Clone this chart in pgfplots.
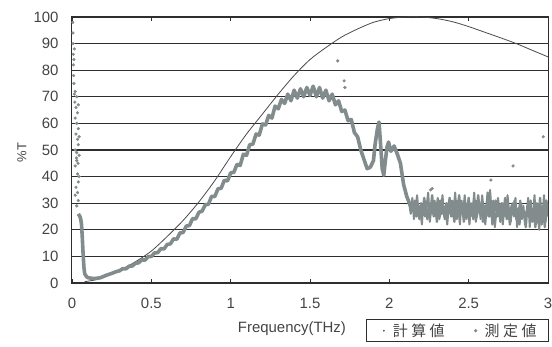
\documentclass[border=0pt]{standalone}
\usepackage{fontspec}
\setmainfont{Liberation Sans}
\newfontfamily\cjk{Noto Sans CJK JP}
\usepackage{pgfplots}
\pgfplotsset{compat=1.18}
\definecolor{meas}{HTML}{828C8C}
\definecolor{calc}{HTML}{4A4A4A}
\definecolor{txt}{HTML}{444444}
\definecolor{gridc}{HTML}{2E2E2E}
\begin{document}
\begin{tikzpicture}
\useasboundingbox (-72bp,-64bp) rectangle (480bp,283bp);
\begin{axis}[
  at={(0,0)}, anchor=south west,
  scale only axis, width=476bp, height=266bp,
  xmin=0, xmax=3, ymin=0, ymax=100,
  xtick={0,0.5,1,1.5,2,2.5,3},
  xticklabels={0,0.5,1,1.5,2,2.5,3},
  ytick={0,10,20,30,40,50,60,70,80,90,100},
  ymajorgrids,
  major grid style={gridc, line width=1.1bp},
  axis line style={gridc, line width=1bp},
  tick align=inside,
  major tick length=4bp,
  xtick style={gridc, line width=0.7bp},
  ytick style={draw=none},
  /pgf/number format/assume math mode=true,
  tick label style={font=\fontsize{15}{17}\selectfont, text=txt},
  xticklabel shift=12bp,
  yticklabel style={xshift=-10bp},
  xlabel={Frequency(THz)},
  xlabel style={at={(axis description cs:0.462,-0.170)}, anchor=center, font=\fontsize{15}{17}\selectfont, text=txt},
  ylabel={\%T},
  ylabel style={at={(axis description cs:-0.105,0.49)}, anchor=center, font=\fontsize{13}{15}\selectfont, text=txt},
  legend style={at={(axis description cs:1.002,-0.136)}, anchor=north east,
    draw=gridc, line width=0.9bp, font=\cjk\fontsize{15}{16}\selectfont, text=txt,
    inner xsep=10bp, inner ysep=2bp,
    /tikz/every even column/.append style={column sep=22bp}},
  legend columns=2,
  clip=true,
]
% calculated
\addplot[calc, line width=0.8bp, smooth,
  legend image code/.code={\path[draw=none,fill=none] (-6bp,0) -- (8bp,0);\fill[calc,draw=none] (1bp,0) circle (1bp);}]
coordinates {
(0.08,0.5)(0.15,1.2)(0.2,2.2)(0.3,4.8)(0.4,8)(0.5,12)(0.6,17.5)(0.7,23.5)(0.8,30.5)
(0.9,38.5)(1.0,47.5)(1.1,56)(1.2,63.5)(1.3,71)(1.4,78)(1.5,84)(1.6,88.5)
(1.7,92.5)(1.8,95.5)(1.9,98)(2.0,99.4)(2.1,100)(2.2,100)(2.3,99.4)(2.4,98.2)
(2.5,96.4)(2.6,94.3)(2.7,92.2)(2.8,90)(2.9,87.5)(3.0,85)
};
\addlegendentry{計\kern3.5bp 算\kern3.5bp 値}
% measured (dense band)
\addplot[meas, line width=3.6bp, line join=round,
  legend image code/.code={\path[draw=none,fill=none] (-6bp,0) -- (8bp,0);\fill[meas,draw=none] (1bp,0) circle (1.8bp);}]
coordinates {
(0.04,26)(0.05,25)(0.055,24)(0.06,22)(0.065,17)(0.07,11)(0.075,6)(0.08,3.5)
(0.09,2.5)(0.1,2)(0.12,1.8)(0.14,1.7)(0.16,1.8)(0.18,2)(0.2,2.5)(0.22,3)
(0.25,3.6)(0.28,4.3)
(0.30,4.6)(0.32,5.4)(0.34,5.3)(0.36,6.3)(0.38,6.4)(0.40,7.4)(0.42,7.6)(0.44,8.7)
(0.46,8.6)(0.48,9.9)(0.50,10.0)(0.52,11.3)(0.54,11.4)(0.56,12.9)(0.58,12.8)(0.60,14.5)
(0.62,14.7)(0.64,16.6)(0.66,16.4)(0.68,18.8)(0.70,19.0)(0.72,21.4)(0.74,21.6)(0.76,24.2)
(0.78,24.1)(0.80,26.6)(0.82,27.0)(0.84,29.4)(0.86,29.6)(0.88,32.6)(0.90,32.5)(0.92,35.4)
(0.94,35.6)(0.96,38.6)(0.98,38.4)(1.00,41.4)(1.02,41.6)(1.04,44.6)(1.06,44.2)(1.08,48.4)
(1.10,48.0)(1.12,52.0)(1.14,52.2)(1.16,56.0)(1.18,55.6)(1.20,59.8)(1.22,59.4)(1.24,63.0)
(1.26,62.0)(1.28,66.5)(1.30,65.5)(1.32,69.0)(1.34,67.5)(1.36,71.0)(1.38,68.5)(1.40,72.5)
(1.42,69.5)(1.44,73.0)(1.46,70.0)(1.48,73.5)(1.50,70.5)(1.52,74.0)(1.54,70.0)(1.56,73.5)
(1.58,69.5)(1.60,72.5)(1.62,68.5)(1.64,71.0)(1.66,67.0)(1.68,68.5)(1.70,64.5)(1.72,65.0)
(1.74,61.0)(1.76,61.5)(1.78,56.5)(1.80,55.0)(1.82,50.0)(1.84,46.5)(1.86,43.0)(1.88,43.5)
(1.90,46.0)(1.91,52)(1.925,58)(1.935,60.5)(1.945,52)(1.955,43)(1.965,40.5)(1.975,46)
(1.985,51)(1.995,53)(2.01,49.5)(2.03,51.5)(2.05,48.5)(2.07,45)(2.09,37)(2.11,32.5)
(2.13,29.5)(2.14,28)
};
\addlegendentry{測\kern3.5bp 定\kern3.5bp 値}
% measured, noisy tail (two interleaved traces)
\addplot[meas, line width=2.4bp, line join=round, forget plot]
coordinates {
(2.14,28)(2.15,27)(2.16,31)(2.17,25)(2.18,29)(2.19,24)(2.20,30)(2.21,26)(2.22,32)(2.23,27)
(2.24,24)(2.25,30)(2.26,27)(2.27,33)(2.28,25)(2.29,29)(2.30,23)(2.31,28)(2.32,31)
(2.33,26)(2.34,29)(2.35,24)(2.36,30)(2.37,27)(2.38,32)(2.39,25)(2.40,28)(2.41,23)
(2.42,31)(2.43,27)(2.44,33)(2.45,26)(2.46,29)(2.47,23)(2.48,30)(2.49,27)(2.50,32)
(2.51,25)(2.52,29)(2.53,24)(2.54,31)(2.55,27)(2.56,33)(2.57,26)(2.58,30)(2.59,23)
(2.60,29)(2.61,27)(2.62,34)(2.63,25)(2.64,30)(2.65,22)(2.66,28)(2.67,31)(2.68,25)
(2.69,29)(2.70,23)(2.71,30)(2.72,26)(2.73,32)(2.74,24)(2.75,28)(2.76,22)(2.77,29)
(2.78,26)(2.79,31)(2.80,24)(2.81,28)(2.82,22)(2.83,30)(2.84,25)(2.85,27)(2.86,21)
(2.87,29)(2.88,25)(2.89,31)(2.90,23)(2.91,28)(2.92,21)(2.93,30)(2.94,24)(2.95,32)
(2.96,22)(2.97,29)(2.98,21)(2.99,31)(3.00,25)
};
\addplot[meas, line width=2.0bp, line join=round, forget plot]
coordinates {
(2.125,30)(2.135,26)(2.145,32)(2.155,24)(2.165,28)(2.175,33)(2.185,26)(2.195,29)
(2.205,22)(2.215,30)(2.225,25)(2.235,29)(2.245,34)(2.255,23)(2.265,28)(2.275,26)
(2.285,31)(2.295,27)(2.305,32)(2.315,24)(2.325,27)(2.335,33)(2.345,25)(2.355,28)
(2.365,22)(2.375,29)(2.385,26)(2.395,31)(2.405,27)(2.415,34)(2.425,24)(2.435,28)
(2.445,22)(2.455,31)(2.465,26)(2.475,33)(2.485,24)(2.495,28)(2.505,22)(2.515,30)
(2.525,27)(2.535,34)(2.545,23)(2.555,26)(2.565,31)(2.575,24)(2.585,33)(2.595,27)
(2.605,22)(2.615,30)(2.625,25)(2.635,35)(2.645,26)(2.655,31)(2.665,21)(2.675,27)
(2.685,32)(2.695,26)(2.705,30)(2.715,22)(2.725,28)(2.735,25)(2.745,33)(2.755,27)
(2.765,23)(2.775,30)(2.785,25)(2.795,32)(2.805,21)(2.815,27)(2.825,31)(2.835,24)
(2.845,29)(2.855,22)(2.865,26)(2.875,32)(2.885,21)(2.895,28)(2.905,25)(2.915,33)
(2.925,22)(2.935,27)(2.945,20)(2.955,29)(2.965,25)(2.975,33)(2.985,23)(2.995,30)
};
% scattered measured points near the origin and outliers
\addplot[only marks, mark=*, mark size=1.4bp, meas, forget plot]
coordinates {
(0.005,98)(0.006,94)(0.007,90)(0.008,86)(0.009,82)(0.01,78)(0.012,75)(0.015,71)
(0.02,72)(0.03,70)(0.025,66)(0.035,64)(0.02,62)(0.03,60)(0.04,58)(0.025,56)
(0.035,54)(0.04,52)(0.02,50)(0.03,49)(0.045,48)(0.03,46)(0.02,44)(0.035,41)
(0.04,38)(0.025,36)(0.035,34)(0.04,31)(0.03,29)(0.015,88)(0.012,84)(0.018,68)
(0.028,47)(0.045,40)(0.02,33)(0.04,67)(0.045,55)(0.038,45)
(1.675,83.5)(1.715,76)(1.72,73.5)(2.27,35.5)(2.64,38.7)(2.78,44)(2.97,55)(2.26,35)
};
\end{axis}
\end{tikzpicture}
\end{document}
